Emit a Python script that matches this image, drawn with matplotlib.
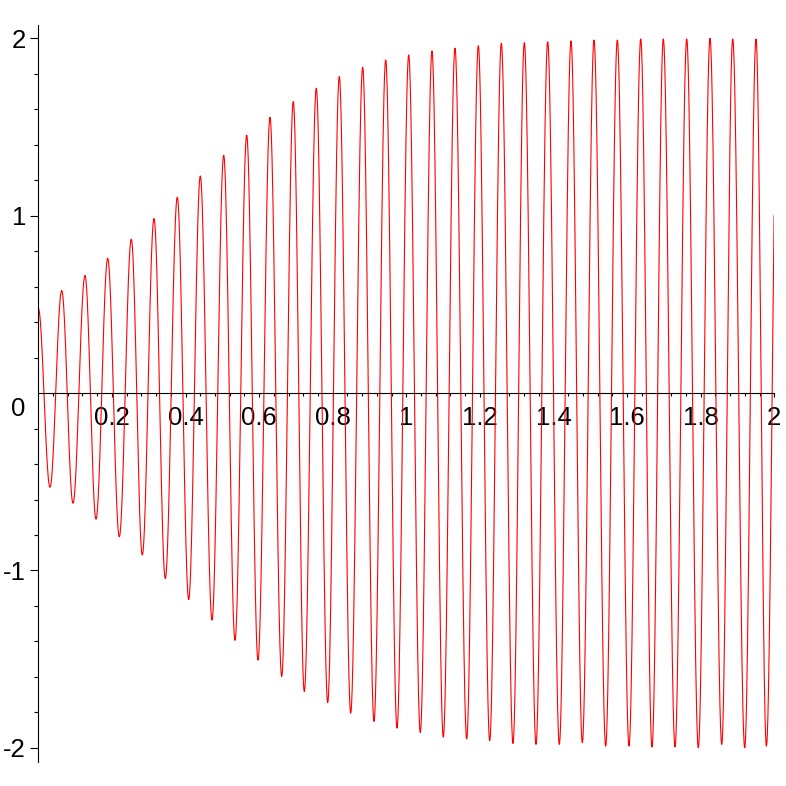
import numpy as np
import matplotlib
matplotlib.use("Agg")
import matplotlib.pyplot as plt

# extrema (t, value)
peak_t = [0.0, 0.0636, 0.1269, 0.1886, 0.2527, 0.3144, 0.3777, 0.4402, 0.5038, 0.5663,
          0.6296, 0.6929, 0.7554, 0.8179, 0.8815, 0.9440, 1.0065, 1.0698, 1.1323, 1.1957,
          1.2582, 1.3207, 1.3842, 1.4476, 1.5101, 1.5734, 1.6370, 1.6984, 1.7620, 1.8253,
          1.8870, 1.9503]
peak_y = [0.479, 0.578, 0.663, 0.760, 0.867, 0.984, 1.104, 1.224, 1.341, 1.454,
          1.555, 1.643, 1.718, 1.784, 1.837, 1.878, 1.906, 1.928, 1.944, 1.958,
          1.972, 1.975, 1.980, 1.985, 1.990, 1.990, 1.996, 1.996, 1.996, 2.000,
          1.996, 1.996]
trough_t = [0.0318, 0.0943, 0.1568, 0.2201, 0.2826, 0.3451, 0.4087, 0.4720, 0.5345, 0.5970,
            0.6614, 0.7228, 0.7864, 0.8489, 0.9122, 0.9747, 1.0380, 1.1005, 1.1641, 1.2266,
            1.2899, 1.3524, 1.4158, 1.4783, 1.5418, 1.6052, 1.6677, 1.7302, 1.7935, 1.8571,
            1.9196, 1.9785]
trough_y = [-0.531, -0.621, -0.711, -0.810, -0.913, -1.045, -1.164, -1.280, -1.394, -1.505,
            -1.597, -1.682, -1.744, -1.804, -1.851, -1.889, -1.913, -1.939, -1.950, -1.960,
            -1.975, -1.980, -1.980, -1.970, -1.990, -1.990, -1.995, -1.995, -2.000, -1.980,
            -2.000, -1.990]
t_end = 2.0

xtick_vals = [0.2, 0.4, 0.6, 0.8, 1.0, 1.2, 1.4, 1.6, 1.8, 2.0]
xtick_labels = ["0.2", "0.4", "0.6", "0.8", "1", "1.2", "1.4", "1.6", "1.8", "2"]
ytick_vals = [-2, -1, 1, 2]
ytick_labels = ["-2", "-1", "1", "2"]

# join the extrema with half-cosine arcs
ext = sorted(zip(peak_t + trough_t, peak_y + trough_y))
half = np.mean(np.diff([e[0] for e in ext]))
ext.append((ext[-1][0] + half, peak_y[-1]))
xs, ys = [], []
for (t0, y0), (t1, y1) in zip(ext[:-1], ext[1:]):
    s = np.linspace(0, 1, 40)
    tt = t0 + s * (t1 - t0)
    yy = (y0 + y1) / 2 + (y0 - y1) / 2 * np.cos(np.pi * s)
    keep = tt <= t_end
    xs.append(tt[keep])
    ys.append(yy[keep])
x = np.concatenate(xs)
y = np.concatenate(ys)

plt.rcParams['font.family'] = ['Liberation Sans', 'DejaVu Sans']
fig = plt.figure(figsize=(7.86, 7.86), dpi=100)
ax = fig.add_axes([38.3 / 786, 24.3 / 786, 736 / 786, 736.7 / 786])
ax.plot(x, y, color='#ff0000', linewidth=0.8)

ax.set_xlim(0, 2)
ax.set_ylim(-2.078, 2.075)
ax.spines['top'].set_visible(False)
ax.spines['right'].set_visible(False)
ax.spines['bottom'].set_position(('data', 0))
for sp in ('left', 'bottom'):
    ax.spines[sp].set_linewidth(0.8)

ax.set_xticks(xtick_vals)
ax.set_xticklabels(xtick_labels)
ax.set_xticks(np.arange(0.04, 2.0, 0.04), minor=True)
ax.set_yticks(ytick_vals)
ax.set_yticklabels(ytick_labels)
ax.set_yticks([v for v in np.arange(-2.0, 2.01, 0.2) if abs(v - round(v)) > 1e-6], minor=True)

ax.tick_params(axis='x', which='major', direction='out', length=3, width=0.8, pad=6, labelsize=18.5)
ax.tick_params(axis='x', which='minor', direction='out', length=2.5, width=0.8)
ax.tick_params(axis='y', which='major', direction='out', length=5.8, width=0.8, pad=3, labelsize=18.5)
ax.tick_params(axis='y', which='minor', direction='out', length=2.9, width=0.8)

ax.annotate("0", xy=(0, 0), xytext=(-9, -2.5), textcoords='offset points',
            ha='right', va='top', fontsize=18.5)

fig.savefig('out.png', dpi=100)
